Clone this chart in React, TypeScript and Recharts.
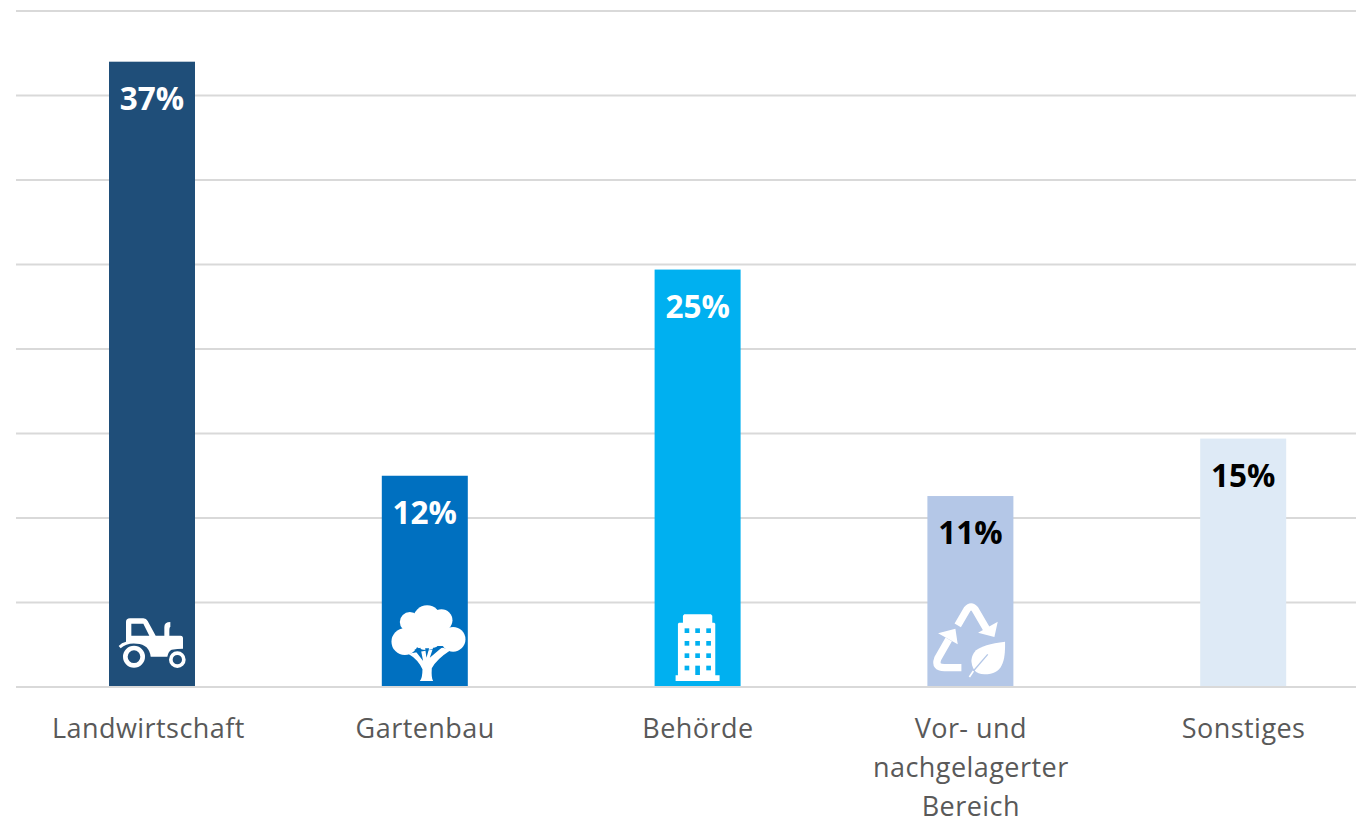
import * as React from 'react';
import { Bar, BarChart, CartesianGrid, LabelList, XAxis, YAxis } from 'recharts';

const categories = ['Landwirtschaft', 'Gartenbau', 'Behörde', 'Vor- und\nnachgelagerter\nBereich', 'Sonstiges'];
const shares = [37, 12.5, 24.7, 11.3, 14.7];
const shareLabels = ['37%', '12%', '25%', '11%', '15%'];
const barColors = ['#1F4E79', '#0070C0', '#00B0F0', '#B4C7E7', '#DEEAF6'];
const labelColors = ['#FFFFFF', '#FFFFFF', '#FFFFFF', '#000000', '#000000'];
const yTicks = [0, 5, 10, 15, 20, 25, 30, 35, 40];

const chartData = categories.map((name, i) => ({ name, share: shares[i], label: shareLabels[i] }));

const FONT = '"Open Sans", sans-serif';
const GRID = '#D9D9D9';

// icons are sketched in 3x pixels, each translate moves the sketch's bar corner to 0,0
function TractorIcon() {
    return (
        <g transform="translate(-57 -288)" fill="#fff">
            <path
                fillRule="evenodd"
                d="M108 152V93Q108 82 120 82H160Q169 82 173 90L197 134H223V108Q223 93 241 93V108Q238 108 238 120V134H272Q279 134 279 142V173Q262 173 245 176Q235 180 232 197H182Q178 160 140 158Q110 155 92 172L86 165Q95 155 108 152ZM124 98V134H178L160 98Z"
            />
            <circle cx={132} cy={197} r={26} fill="none" stroke="#fff" strokeWidth={14} />
            <circle cx={262} cy={206} r={19.5} fill="none" stroke="#fff" strokeWidth={11} />
        </g>
    );
}

function TreeIcon() {
    return (
        <g transform="translate(-876 -288)" fill="#fff">
            <circle cx={1012} cy={85} r={42} />
            <circle cx={960} cy={93} r={30} />
            <circle cx={1055} cy={88} r={33} />
            <circle cx={945} cy={152} r={40} />
            <circle cx={1090} cy={145} r={37} />
            <circle cx={1010} cy={125} r={52} />
            <rect x={950} y={110} width={130} height={55} />
            <path d="M990 270Q998 262 998 235Q985 205 955 188L1060 170L1082 178Q1040 205 1026 232Q1024 262 1030 270Z" />
            <path fill="#0070C0" d="M974 176L1000 210L992 170ZM1006 172L1010 200L1018 172ZM1030 170L1020 200L1058 168Z" />
        </g>
    );
}

function BuildingIcon() {
    const cols = [105, 137, 170];
    const rows = [112, 150, 187, 224];
    return (
        <g transform="translate(-15 -288)" fill="#fff">
            <path d="M100 95V74L104 70H184L188 74V95H194L197 98V253H210V270H78V253H85V98L88 95Z" />
            {rows.map(ry =>
                cols.map(cx => (
                    <rect
                        key={`${ry}-${cx}`}
                        x={cx}
                        y={ry}
                        width={14}
                        height={ry === 224 && cx === 137 ? 28 : 14}
                        fill="#00B0F0"
                    />
                ))
            )}
        </g>
    );
}

function RecycleIcon() {
    return (
        <g transform="translate(-834 -288)">
            <path d="M925 103L953 55Q965 40 977 55L1012 115" fill="none" stroke="#fff" strokeWidth={22} />
            <path d="M986 125L1035 138L1045 92Z" fill="#fff" />
            <path d="M936 230H885Q855 230 865 203L898 145" fill="none" stroke="#fff" strokeWidth={22} />
            <path d="M866 127L918 113L925 160Z" fill="#fff" />
            <path
                d="M1067 152C1068 210 1060 250 1005 250Q985 250 975 238Q955 205 980 178Q1000 160 1067 152Z"
                fill="#fff"
            />
            <path d="M1015 190L972 240" stroke="#B4C7E7" strokeWidth={4} fill="none" />
            <path d="M972 240L960 258" stroke="#fff" strokeWidth={5} fill="none" />
        </g>
    );
}

const icons = [TractorIcon, TreeIcon, BuildingIcon, RecycleIcon];

function IconBar(props: any) {
    const { x, y, width, height, index } = props;
    const Icon = icons[index];
    return (
        <g>
            <rect x={x} y={y} width={width} height={height} fill={barColors[index]} />
            {Icon && (
                <g transform={`translate(${x} ${y + height}) scale(${1 / 3})`}>
                    <Icon />
                </g>
            )}
        </g>
    );
}

function ShareLabel(props: any) {
    const { x, y, width, value, index } = props;
    return (
        <text
            x={x + width / 2}
            y={y + 48}
            textAnchor="middle"
            fontFamily={FONT}
            fontWeight={700}
            fontSize={31.5}
            fill={labelColors[index]}
        >
            {value}
        </text>
    );
}

function CategoryTick(props: any) {
    const { x, y, payload, index } = props;
    const lines = String(payload.value).split('\n');
    // first label sits a bit left of its bar in the original
    const tickX = index === 0 ? x - 4 : x;
    return (
        <text textAnchor="middle" fontFamily={FONT} fontSize={27} letterSpacing={0.45} fill="#595959">
            {lines.map((line, i) => (
                <tspan key={line} x={tickX} y={y + 43 + i * 39}>
                    {line}
                </tspan>
            ))}
        </text>
    );
}

export default function App() {
    return (
        <div style={{ position: 'absolute', left: 0, top: 0, width: 1356, height: 820, overflow: 'hidden', background: '#fff' }}>
            <BarChart
                width={1380}
                height={820}
                data={chartData}
                margin={{ top: 11, right: 0, bottom: 0, left: 16 }}
                barCategoryGap={0}
            >
                <CartesianGrid horizontal vertical={false} stroke={GRID} strokeWidth={2} />
                <YAxis hide domain={[0, 40]} ticks={yTicks} />
                <XAxis
                    dataKey="name"
                    height={133}
                    interval={0}
                    axisLine={{ stroke: GRID, strokeWidth: 2 }}
                    tickLine={false}
                    tick={<CategoryTick />}
                />
                <Bar dataKey="share" barSize={86} isAnimationActive={false} shape={<IconBar />}>
                    <LabelList dataKey="label" content={<ShareLabel />} />
                </Bar>
            </BarChart>
        </div>
    );
}
